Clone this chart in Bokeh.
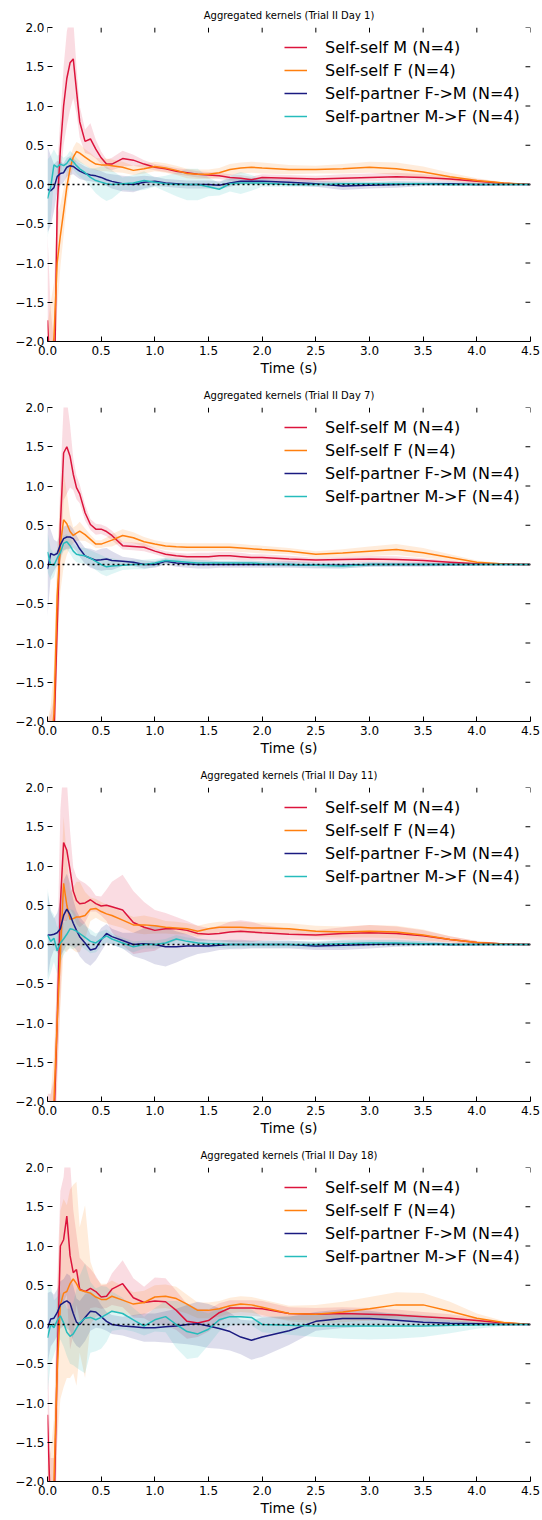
import math
from bokeh.plotting import figure
from bokeh.layouts import column
from bokeh.models import Range1d, FixedTicker, Legend, LegendItem, Span
from bokeh.embed import file_html
from bokeh.resources import INLINE

# ---------------- data ----------------
T = [0.0, 0.03, 0.06, 0.09, 0.12, 0.15, 0.18, 0.21, 0.24, 0.27,
     0.3, 0.35, 0.4, 0.45, 0.5, 0.55, 0.6, 0.7, 0.8, 0.9,
     1.0, 1.1, 1.2, 1.3, 1.4, 1.5, 1.6, 1.7, 1.8, 1.9,
     2.0, 2.25, 2.5, 2.75, 3.0, 3.25, 3.5, 3.75, 4.0, 4.25, 4.5]

LABELS = ["Self-self M (N=4)", "Self-self F (N=4)",
          "Self-partner F->M (N=4)", "Self-partner M->F (N=4)"]
COLORS = ["#dc143c", "#ff7f0e", "#1a1a80", "#26bcbc"]
DAYS = ["1", "7", "11", "18"]

X_TICKS = [0.0, 0.5, 1.0, 1.5, 2.0, 2.5, 3.0, 3.5, 4.0, 4.5]
X_TICK_LABELS = ["0.0", "0.5", "1.0", "1.5", "2.0", "2.5", "3.0", "3.5", "4.0", "4.5"]
Y_TICKS = [-2.0, -1.5, -1.0, -0.5, 0.0, 0.5, 1.0, 1.5, 2.0]
Y_TICK_LABELS = ["\u22122.0", "\u22121.5", "\u22121.0", "\u22120.5", "0.0", "0.5", "1.0", "1.5", "2.0"]

# Day 1
D1_M = [-1.73, -2.6, -3.0, -0.3, 0.45, 1.0, 1.35, 1.55, 1.6, 1.2,
        0.8, 0.55, 0.58, 0.45, 0.34, 0.26, 0.26, 0.33, 0.31, 0.26,
        0.22, 0.2, 0.17, 0.15, 0.13, 0.12, 0.11, 0.09, 0.08, 0.06,
        0.09, 0.08, 0.07, 0.08, 0.09, 0.1, 0.09, 0.07, 0.04, 0.015, 0.0]
D1_M_E = [1.1, 1.0, 1.0, 0.5, 0.4, 0.5, 0.6, 0.6, 0.5, 0.3,
          0.2, 0.15, 0.2, 0.12, 0.08, 0.06, 0.08, 0.1, 0.07, 0.05,
          0.04, 0.04, 0.04, 0.04, 0.04, 0.04, 0.04, 0.04, 0.04, 0.04,
          0.04, 0.04, 0.04, 0.05, 0.05, 0.05, 0.04, 0.03, 0.03, 0.01, 0.0]
D1_F = [-2.6, -2.3, -1.95, -1.0, -0.65, -0.35, -0.03, 0.2, 0.35, 0.42,
        0.4, 0.35, 0.3, 0.26, 0.25, 0.25, 0.24, 0.22, 0.18, 0.2,
        0.23, 0.21, 0.18, 0.14, 0.13, 0.13, 0.15, 0.19, 0.21, 0.22,
        0.21, 0.19, 0.19, 0.2, 0.22, 0.2, 0.16, 0.1, 0.05, 0.02, 0.0]
D1_F_E = [0.8, 0.8, 0.7, 0.6, 0.4, 0.3, 0.2, 0.15, 0.12, 0.12,
          0.12, 0.1, 0.1, 0.08, 0.08, 0.08, 0.08, 0.07, 0.06, 0.06,
          0.06, 0.06, 0.06, 0.06, 0.06, 0.06, 0.06, 0.07, 0.07, 0.07,
          0.07, 0.06, 0.05, 0.06, 0.07, 0.08, 0.07, 0.05, 0.03, 0.01, 0.0]
D1_FM = [-0.06, -0.08, -0.04, 0.1, 0.14, 0.15, 0.22, 0.24, 0.23, 0.2,
         0.17, 0.14, 0.12, 0.11, 0.09, 0.06, 0.04, 0.01, 0.0, 0.03,
         0.04, 0.02, 0.01, 0.0, 0.0, 0.0, -0.01, 0.02, 0.04, 0.04,
         0.04, 0.03, 0.01, -0.02, -0.01, 0.0, 0.01, 0.01, 0.0, 0.0, 0.0]
D1_FM_E = [0.55, 0.45, 0.3, 0.2, 0.15, 0.12, 0.12, 0.12, 0.1, 0.1,
           0.1, 0.09, 0.08, 0.08, 0.08, 0.08, 0.09, 0.1, 0.1, 0.08,
           0.06, 0.05, 0.05, 0.05, 0.05, 0.05, 0.05, 0.05, 0.04, 0.04,
           0.04, 0.04, 0.04, 0.05, 0.04, 0.04, 0.03, 0.03, 0.02, 0.01, 0.0]
D1_MF = [-0.18, -0.03, 0.25, 0.22, 0.26, 0.24, 0.27, 0.33, 0.29, 0.24,
         0.2, 0.15, 0.09, 0.05, 0.03, 0.01, 0.0, 0.01, 0.02, 0.05,
         0.03, 0.01, 0.0, 0.0, 0.0, -0.03, -0.06, 0.01, 0.02, 0.02,
         0.02, 0.0, 0.0, 0.01, 0.01, 0.01, 0.01, 0.0, 0.0, 0.0, 0.0]
D1_MF_E = [0.5, 0.4, 0.2, 0.15, 0.12, 0.1, 0.1, 0.1, 0.1, 0.1,
           0.1, 0.1, 0.12, 0.16, 0.2, 0.22, 0.18, 0.08, 0.1, 0.12,
           0.06, 0.1, 0.15, 0.2, 0.2, 0.12, 0.08, 0.1, 0.14, 0.1,
           0.05, 0.03, 0.03, 0.03, 0.03, 0.03, 0.02, 0.02, 0.01, 0.0, 0.0]

# Day 7
D2_M = [-2.5, -2.4, -2.2, -0.8, 0.5, 1.42, 1.5, 1.38, 1.15, 0.98,
        0.9, 0.66, 0.51, 0.45, 0.45, 0.42, 0.37, 0.24, 0.23, 0.22,
        0.17, 0.13, 0.11, 0.1, 0.1, 0.1, 0.11, 0.11, 0.1, 0.09,
        0.09, 0.07, 0.056, 0.065, 0.07, 0.065, 0.05, 0.03, 0.01, 0.005, 0.0]
D2_M_E = [0.5, 0.5, 0.5, 0.5, 0.6, 0.6, 0.6, 0.4, 0.2, 0.15,
          0.12, 0.1, 0.07, 0.07, 0.06, 0.06, 0.06, 0.05, 0.05, 0.05,
          0.04, 0.04, 0.04, 0.04, 0.05, 0.05, 0.05, 0.05, 0.05, 0.04,
          0.04, 0.04, 0.03, 0.03, 0.04, 0.04, 0.03, 0.02, 0.01, 0.005, 0.0]
D2_F = [-2.6, -2.4, -1.9, -0.4, 0.25, 0.57, 0.52, 0.42, 0.37, 0.4,
        0.425, 0.38, 0.32, 0.26, 0.26, 0.285, 0.31, 0.37, 0.34, 0.29,
        0.26, 0.235, 0.225, 0.22, 0.22, 0.22, 0.22, 0.22, 0.21, 0.2,
        0.19, 0.17, 0.13, 0.145, 0.17, 0.19, 0.15, 0.09, 0.03, 0.005, 0.0]
D2_F_E = [0.6, 0.6, 0.6, 0.6, 0.6, 0.6, 0.4, 0.2, 0.1, 0.1,
          0.12, 0.08, 0.06, 0.05, 0.05, 0.06, 0.08, 0.08, 0.07, 0.06,
          0.05, 0.05, 0.05, 0.05, 0.05, 0.05, 0.05, 0.05, 0.05, 0.05,
          0.05, 0.04, 0.04, 0.05, 0.06, 0.07, 0.06, 0.04, 0.02, 0.01, 0.0]
D2_FM = [-0.06, 0.14, 0.12, 0.14, 0.25, 0.33, 0.35, 0.35, 0.33, 0.27,
         0.2, 0.11, 0.08, 0.055, 0.06, 0.07, 0.05, 0.04, 0.03, 0.0,
         0.0, 0.04, 0.02, 0.01, 0.0, 0.0, 0.0, 0.0, 0.0, 0.0,
         0.0, 0.0, -0.01, -0.01, 0.0, 0.0, 0.0, 0.0, 0.0, 0.0, 0.0]
D2_FM_E = [0.6, 0.3, 0.2, 0.15, 0.15, 0.15, 0.15, 0.15, 0.12, 0.1,
           0.1, 0.1, 0.12, 0.12, 0.14, 0.14, 0.12, 0.06, 0.05, 0.05,
           0.04, 0.04, 0.05, 0.05, 0.05, 0.05, 0.04, 0.04, 0.04, 0.04,
           0.04, 0.04, 0.04, 0.04, 0.03, 0.03, 0.03, 0.02, 0.01, 0.0, 0.0]
D2_MF = [0.16, 0.0, -0.01, 0.08, 0.15, 0.27, 0.29, 0.24, 0.17, 0.13,
         0.12, 0.11, 0.08, 0.04, 0.0, -0.03, -0.02, -0.01, 0.0, 0.0,
         0.02, 0.05, 0.04, 0.03, 0.02, 0.02, 0.02, 0.02, 0.02, 0.02,
         0.01, 0.0, -0.01, -0.02, 0.0, 0.0, 0.0, 0.0, 0.0, 0.0, 0.0]
D2_MF_E = [0.25, 0.2, 0.15, 0.1, 0.1, 0.1, 0.1, 0.1, 0.1, 0.1,
           0.1, 0.1, 0.1, 0.11, 0.12, 0.12, 0.1, 0.06, 0.06, 0.06,
           0.05, 0.04, 0.04, 0.04, 0.04, 0.03, 0.03, 0.03, 0.03, 0.03,
           0.03, 0.03, 0.03, 0.03, 0.03, 0.02, 0.02, 0.02, 0.01, 0.0, 0.0]

# Day 11
D3_M = [-2.5, -2.5, -2.3, -1.0, 0.52, 1.3, 1.2, 0.95, 0.68, 0.56,
        0.52, 0.53, 0.57, 0.52, 0.49, 0.5, 0.48, 0.44, 0.28, 0.22,
        0.18, 0.2, 0.2, 0.18, 0.14, 0.13, 0.14, 0.16, 0.17, 0.16,
        0.15, 0.13, 0.12, 0.14, 0.15, 0.14, 0.11, 0.065, 0.025, 0.005, 0.0]
D3_M_E = [0.6, 0.6, 0.6, 0.8, 1.2, 1.0, 0.9, 0.5, 0.3, 0.3,
          0.3, 0.25, 0.15, 0.1, 0.12, 0.2, 0.32, 0.45, 0.4, 0.32,
          0.26, 0.2, 0.15, 0.12, 0.1, 0.08, 0.1, 0.13, 0.14, 0.13,
          0.1, 0.07, 0.06, 0.08, 0.1, 0.09, 0.07, 0.04, 0.02, 0.01, 0.0]
D3_F = [-2.7, -2.5, -2.0, -1.0, -0.1, 0.78, 0.5, 0.32, 0.33, 0.35,
        0.35, 0.37, 0.45, 0.46, 0.42, 0.39, 0.37, 0.31, 0.25, 0.25,
        0.24, 0.22, 0.21, 0.2, 0.17, 0.2, 0.22, 0.22, 0.22, 0.21,
        0.21, 0.2, 0.17, 0.16, 0.17, 0.16, 0.12, 0.065, 0.025, 0.005, 0.0]
D3_F_E = [0.6, 0.6, 0.6, 0.6, 0.7, 0.85, 0.6, 0.35, 0.4, 0.45,
          0.45, 0.3, 0.15, 0.12, 0.12, 0.12, 0.12, 0.1, 0.1, 0.12,
          0.1, 0.08, 0.08, 0.07, 0.07, 0.07, 0.07, 0.07, 0.07, 0.07,
          0.07, 0.07, 0.07, 0.07, 0.08, 0.08, 0.07, 0.04, 0.02, 0.01, 0.0]
D3_FM = [0.12, 0.12, 0.13, 0.15, 0.2, 0.37, 0.45, 0.38, 0.27, 0.18,
         0.1, 0.02, -0.07, -0.05, 0.06, 0.14, 0.1, 0.05, 0.0, 0.01,
         0.0, -0.03, -0.03, -0.02, -0.02, -0.02, -0.01, 0.0, 0.0, 0.0,
         0.0, 0.0, -0.02, -0.01, 0.0, 0.01, 0.01, 0.0, 0.0, 0.0, 0.0]
D3_FM_E = [0.55, 0.3, 0.2, 0.25, 0.35, 0.45, 0.45, 0.4, 0.3, 0.25,
           0.25, 0.25, 0.2, 0.15, 0.15, 0.12, 0.1, 0.1, 0.15, 0.2,
           0.25, 0.25, 0.2, 0.15, 0.1, 0.08, 0.06, 0.06, 0.06, 0.05,
           0.05, 0.05, 0.05, 0.06, 0.05, 0.04, 0.03, 0.02, 0.01, 0.0, 0.0]
D3_MF = [0.12, 0.04, 0.08, -0.08, 0.02, 0.07, 0.13, 0.2, 0.19, 0.17,
         0.14, 0.09, 0.04, 0.02, 0.07, 0.11, 0.07, 0.02, -0.03, 0.0,
         0.0, 0.02, 0.07, 0.04, 0.02, 0.01, 0.01, 0.0, 0.0, 0.0,
         0.0, 0.0, 0.0, 0.01, 0.02, 0.02, 0.01, 0.0, 0.0, 0.0, 0.0]
D3_MF_E = [0.6, 0.4, 0.3, 0.3, 0.25, 0.2, 0.2, 0.25, 0.25, 0.2,
           0.15, 0.15, 0.15, 0.12, 0.1, 0.08, 0.07, 0.07, 0.07, 0.05,
           0.05, 0.05, 0.05, 0.05, 0.05, 0.05, 0.05, 0.05, 0.04, 0.04,
           0.04, 0.04, 0.04, 0.05, 0.04, 0.04, 0.03, 0.02, 0.01, 0.0, 0.0]

# Day 18
D4_M = [-1.15, -2.5, -2.5, -0.5, 1.0, 1.08, 1.38, 0.88, 0.66, 0.7,
        0.45, 0.42, 0.46, 0.42, 0.35, 0.36, 0.45, 0.52, 0.34, 0.28,
        0.3, 0.29, 0.18, 0.04, 0.02, 0.05, 0.15, 0.21, 0.21, 0.21,
        0.2, 0.14, 0.13, 0.14, 0.13, 0.12, 0.1, 0.08, 0.05, 0.02, 0.0]
D4_M_E = [0.8, 0.8, 0.8, 1.0, 0.7, 0.8, 1.0, 1.2, 0.8, 0.45,
          0.4, 0.35, 0.25, 0.2, 0.15, 0.15, 0.2, 0.3, 0.25, 0.2,
          0.3, 0.3, 0.25, 0.22, 0.18, 0.14, 0.12, 0.1, 0.1, 0.1,
          0.1, 0.08, 0.08, 0.08, 0.08, 0.07, 0.06, 0.05, 0.03, 0.01, 0.0]
D4_F = [-2.6, -2.4, -2.0, -0.6, 0.25, 0.4, 0.42, 0.52, 0.58, 0.52,
        0.44, 0.42, 0.4, 0.35, 0.32, 0.32, 0.36, 0.31, 0.26, 0.28,
        0.35, 0.36, 0.33, 0.26, 0.18, 0.18, 0.2, 0.24, 0.26, 0.25,
        0.22, 0.14, 0.13, 0.16, 0.2, 0.25, 0.25, 0.17, 0.08, 0.025, 0.0]
D4_F_E = [0.8, 0.8, 0.8, 0.9, 1.2, 1.2, 1.1, 1.2, 1.2, 1.3,
          0.8, 1.1, 0.4, 0.25, 0.2, 0.2, 0.2, 0.18, 0.15, 0.15,
          0.15, 0.15, 0.15, 0.12, 0.1, 0.1, 0.1, 0.1, 0.1, 0.1,
          0.1, 0.1, 0.12, 0.13, 0.15, 0.16, 0.15, 0.12, 0.06, 0.02, 0.0]
D4_FM = [-0.05, 0.07, 0.08, 0.15, 0.25, 0.28, 0.3, 0.27, 0.14, 0.03,
         0.0, 0.09, 0.17, 0.16, 0.1, 0.04, 0.0, -0.02, -0.03, -0.04,
         -0.04, -0.03, -0.02, 0.0, 0.01, -0.02, -0.05, -0.09, -0.16, -0.2,
         -0.16, -0.08, 0.04, 0.075, 0.075, 0.055, 0.03, 0.015, 0.01, 0.0, 0.0]
D4_FM_E = [0.45, 0.35, 0.3, 0.3, 0.3, 0.3, 0.35, 0.35, 0.35, 0.3,
           0.3, 0.3, 0.25, 0.2, 0.15, 0.12, 0.12, 0.12, 0.15, 0.18,
           0.18, 0.2, 0.22, 0.25, 0.28, 0.28, 0.26, 0.24, 0.22, 0.25,
           0.25, 0.18, 0.12, 0.12, 0.1, 0.08, 0.06, 0.04, 0.02, 0.01, 0.0]
D4_MF = [-0.17, 0.0, -0.04, 0.05, 0.11, 0.02, -0.1, -0.15, -0.12, -0.05,
         0.02, 0.08, 0.09, 0.06, 0.09, 0.13, 0.17, 0.14, 0.06, -0.02,
         0.06, 0.1, 0.0, -0.09, -0.12, -0.06, 0.06, 0.1, 0.1, 0.09,
         0.0, -0.01, -0.02, -0.02, -0.02, -0.02, -0.02, -0.01, -0.005, 0.0, 0.0]
D4_MF_E = [0.7, 0.5, 0.35, 0.3, 0.3, 0.3, 0.3, 0.35, 0.4, 0.5,
           0.6, 0.7, 0.45, 0.4, 0.4, 0.35, 0.25, 0.2, 0.15, 0.12,
           0.15, 0.2, 0.3, 0.35, 0.3, 0.2, 0.15, 0.12, 0.1, 0.1,
           0.1, 0.12, 0.14, 0.16, 0.17, 0.16, 0.14, 0.1, 0.05, 0.02, 0.0]

PANELS = [
    [(D1_M, D1_M_E), (D1_F, D1_F_E), (D1_FM, D1_FM_E), (D1_MF, D1_MF_E)],
    [(D2_M, D2_M_E), (D2_F, D2_F_E), (D2_FM, D2_FM_E), (D2_MF, D2_MF_E)],
    [(D3_M, D3_M_E), (D3_F, D3_F_E), (D3_FM, D3_FM_E), (D3_MF, D3_MF_E)],
    [(D4_M, D4_M_E), (D4_F, D4_F_E), (D4_FM, D4_FM_E), (D4_MF, D4_MF_E)],
]

FONT = "DejaVu Sans"
x_over = {t: s for t, s in zip(X_TICKS, X_TICK_LABELS)}
y_over = {t: s for t, s in zip(Y_TICKS, Y_TICK_LABELS)}


def style_ticks(ax):
    ax.major_tick_in = 5
    ax.major_tick_out = 0
    ax.minor_tick_line_color = None
    ax.major_tick_line_color = "black"
    ax.major_tick_line_width = 1
    ax.major_label_text_color = "black"
    ax.axis_label_text_color = "black"


def make_panel(day, series):
    p = figure(width=542, height=380, x_range=Range1d(0, 4.5), y_range=Range1d(-2, 2),
               output_backend="svg", toolbar_location=None,
               min_border_left=47, min_border_right=12, min_border_top=27, min_border_bottom=39)
    p.title.text = "Aggregated kernels (Trial II Day %s)" % day
    p.title.align = "center"
    p.title.text_font = FONT
    p.title.text_font_size = "10px"
    p.title.text_font_style = "normal"
    p.title.text_color = "black"
    p.title.standoff = 13
    p.outline_line_color = None
    p.grid.grid_line_color = None
    p.background_fill_color = "white"

    # bottom axis
    xa = p.xaxis[0]
    xa.ticker = FixedTicker(ticks=X_TICKS)
    xa.major_label_overrides = x_over
    xa.major_label_text_font = FONT
    xa.major_label_text_font_size = "12px"
    xa.major_label_standoff = 4
    xa.axis_label = "Time (s)"
    xa.axis_label_text_font = FONT
    xa.axis_label_text_font_size = "14px"
    xa.axis_label_text_font_style = "normal"
    xa.axis_label_standoff = 2
    xa.axis_line_color = "black"
    style_ticks(xa)

    # left axis
    ya = p.yaxis[0]
    ya.ticker = FixedTicker(ticks=Y_TICKS)
    ya.major_label_overrides = y_over
    ya.major_label_text_font = FONT
    ya.major_label_text_font_size = "12px"
    ya.major_label_standoff = 3
    ya.axis_line_color = None
    style_ticks(ya)

    # inward tick marks along the top and right frame edges
    p.ray(x=X_TICKS, y=[2.0] * len(X_TICKS), length=5, length_units="screen",
          angle=-math.pi / 2, line_color="black", line_width=1)
    p.ray(x=[4.5] * len(Y_TICKS), y=Y_TICKS, length=5, length_units="screen",
          angle=math.pi, line_color="black", line_width=1)

    # bands
    for (mean, err), c in zip(series, COLORS):
        lo = [m - e for m, e in zip(mean, err)]
        hi = [m + e for m, e in zip(mean, err)]
        p.varea(x=T, y1=lo, y2=hi, fill_color=c, fill_alpha=0.15)

    p.add_layout(Span(location=0, dimension="width", line_color="black",
                      line_dash="2 3", line_width=1.5))

    items = []
    for (mean, err), c, lab in zip(series, COLORS, LABELS):
        r = p.line(T, mean, line_color=c, line_width=1.5)
        items.append(LegendItem(label=lab, renderers=[r]))

    # location = bottom-left corner of the legend box, in frame screen units
    leg = Legend(items=items, location=(237, 215), border_line_color=None,
                 background_fill_alpha=0, label_text_font=FONT, label_text_font_size="16px",
                 label_text_color="black",
                 glyph_width=23, glyph_height=20, label_height=20, spacing=3,
                 label_standoff=18, padding=4, margin=0)
    p.add_layout(leg)
    return p


figs = [make_panel(d, s) for d, s in zip(DAYS, PANELS)]
layout = column(*figs, spacing=0)
open("out.html", "w").write(file_html(layout, INLINE))
